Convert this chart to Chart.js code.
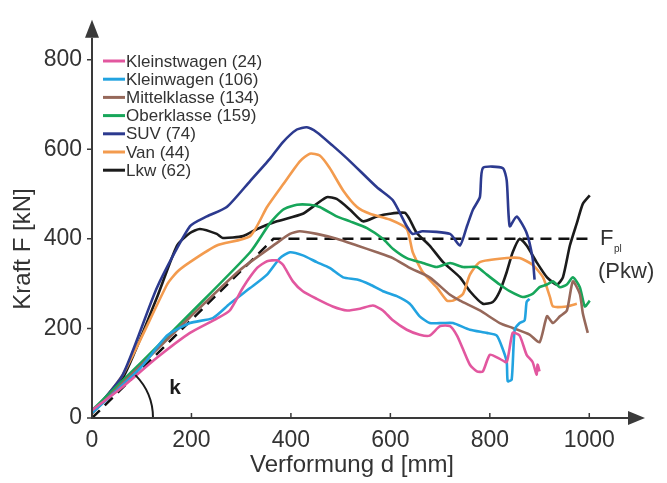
<!DOCTYPE html>
<html>
<head>
<meta charset="utf-8">
<script src="https://cdn.jsdelivr.net/npm/chart.js@4.4.1/dist/chart.umd.min.js"></script>
<style>
  html, body { margin: 0; padding: 0; background: #fff; }
</style>
</head>
<body>
<canvas id="chart" width="667" height="483"></canvas>
<script>
// Kraft-Verformungs-Kennlinien je Fahrzeugklasse (d in mm, F in kN)
const kleinstwagenD = [0,62,131,197,251,277,304,332,352,372,384,404,424,452,484,513,539,565,585,605,633,659,679,700,720,734,746,760,774,786,800,820,834,846,860,874,886,894,896,900];
const kleinstwagenF = [17,70,135,190,222,240,292,335,350,352,342,305,283,266,249,240,244,251,240,218,197,186,184,205,205,184,154,119,104,104,141,132,125,190,184,141,125,97,119,104];

const kleinwagenD = [0,96,151,197,243,277,318,352,378,398,424,452,478,505,533,559,585,613,639,659,679,706,726,760,794,814,826,834,836,844,850,860,870,874,880];
const kleinwagenF = [11,110,184,212,223,255,290,320,357,370,363,348,335,314,309,298,283,272,255,227,212,212,212,197,190,184,154,125,82,86,197,212,218,259,266];

const mittelklasseD = [0,197,297,372,398,418,452,492,533,573,605,639,679,720,740,780,820,846,880,900,915,927,941,955,967,981,987,997];
const mittelklasseF = [11,225,330,391,411,417,411,400,385,370,357,335,314,275,262,240,212,201,186,169,227,212,227,240,305,277,234,190];

const oberklasseD = [0,100,200,318,358,384,412,438,458,492,519,553,585,605,633,665,693,720,746,774,794,820,840,866,886,900,915,927,941,955,967,981,991,1001];
const oberklasseF = [17,125,236,370,435,465,476,476,471,450,439,424,400,378,357,346,337,346,337,337,320,298,283,270,277,292,298,305,292,298,314,292,249,262];

const suvD = [0,62,131,197,231,271,318,358,384,412,432,452,484,519,573,605,633,645,665,720,740,754,766,780,786,826,834,840,854,874,886,890];
const suvF = [11,97,292,428,450,471,529,579,616,644,649,638,608,573,515,486,428,411,417,411,385,428,465,493,558,558,530,428,450,413,357,309];

const vanD = [0,62,151,171,197,251,318,352,384,418,438,458,478,505,533,559,599,633,645,665,693,714,726,746,760,780,834,860,886,907,921,927,955,975];
const vanF = [9,97,298,326,348,385,406,471,521,573,590,586,558,508,471,456,443,422,370,326,292,262,262,277,320,348,357,357,342,314,270,249,249,255];

const lkwD = [0,62,131,171,197,217,251,263,304,332,372,424,452,472,492,519,545,573,599,629,639,653,679,706,740,760,786,806,820,834,846,860,874,894,915,935,947,961,975,987,1001];
const lkwF = [11,89,270,385,413,422,411,402,406,422,439,456,478,493,489,465,439,450,456,458,443,413,385,348,314,283,255,259,283,326,370,400,385,348,314,298,314,385,435,478,497];

// plastische Grenzkraft Pkw, Anstieg k
const fplD = [0, 365, 1000];
const fplF = [0, 400, 400];

const seriesNames = ['Kleinstwagen (24)', 'Kleinwagen (106)', 'Mittelklasse (134)', 'Oberklasse (159)', 'SUV (74)', 'Van (44)', 'Lkw (62)'];
const seriesColors = ['#e2579f', '#22a3e0', '#96685a', '#17a65a', '#2c3a8f', '#f39b4e', '#1b1b1b'];
const xTicks = [0, 200, 400, 600, 800, 1000];
const yTicks = [0, 200, 400, 600, 800];

const FONT = '"Liberation Sans", Arial, Helvetica, sans-serif';
const TEXT = '#333333';

const pts = (d, f) => d.map((v, i) => ({x: v, y: f[i]}));

const curves = [
  [kleinstwagenD, kleinstwagenF],
  [kleinwagenD, kleinwagenF],
  [mittelklasseD, mittelklasseF],
  [oberklasseD, oberklasseF],
  [suvD, suvF],
  [vanD, vanF],
  [lkwD, lkwF]
];

const datasets = curves.map(([d, f], i) => ({
  label: seriesNames[i],
  data: pts(d, f),
  borderColor: seriesColors[i],
  borderWidth: 2.6,
  tension: 0.2,
  pointRadius: 0,
  showLine: true
}));

datasets.push({
  label: 'Fpl',
  data: pts(fplD, fplF),
  borderColor: '#111',
  borderWidth: 2.5,
  borderDash: [11, 7],
  pointRadius: 0,
  showLine: true,
  tension: 0
});

// axes with arrows, legend, k-angle and text labels
const decor = {
  id: 'decor',
  afterDraw(chart) {
    const {ctx, scales: {x, y}} = chart;
    const x0 = x.getPixelForValue(0);
    const y0 = y.getPixelForValue(0);
    ctx.save();

    // k angle arc between x axis and the dashed line
    const bend = {x: x.getPixelForValue(fplD[1]), y: y.getPixelForValue(fplF[1])};
    const ang = Math.atan2(bend.y - y0, bend.x - x0);
    ctx.strokeStyle = '#1b1b1b';
    ctx.lineWidth = 2;
    ctx.beginPath();
    ctx.arc(x0, y0, 61, ang, 0);
    ctx.stroke();
    ctx.fillStyle = '#1b1b1b';
    ctx.font = 'bold 21px ' + FONT;
    ctx.textAlign = 'center';
    ctx.textBaseline = 'middle';
    ctx.fillText('k', 175, 388);

    // axis lines
    ctx.strokeStyle = '#3a3a3a';
    ctx.fillStyle = '#3a3a3a';
    ctx.lineWidth = 2;
    ctx.beginPath();
    ctx.moveTo(x0, y0);
    ctx.lineTo(x.right - 8, y0);
    ctx.moveTo(x0, y0 + 1);
    ctx.lineTo(x0, y.top + 14);
    ctx.stroke();

    // arrow heads
    ctx.beginPath();
    ctx.moveTo(x.right + 6, y0);
    ctx.lineTo(x.right - 11, y0 - 7);
    ctx.lineTo(x.right - 11, y0 + 7);
    ctx.closePath();
    ctx.fill();
    ctx.beginPath();
    ctx.moveTo(x0, y.top - 4);
    ctx.lineTo(x0 - 7, y.top + 14);
    ctx.lineTo(x0 + 7, y.top + 14);
    ctx.closePath();
    ctx.fill();

    // tick marks
    ctx.lineWidth = 1.5;
    ctx.beginPath();
    xTicks.forEach(v => {
      const px = x.getPixelForValue(v);
      ctx.moveTo(px, y0);
      ctx.lineTo(px, y0 - 5);
    });
    yTicks.forEach(v => {
      const py = y.getPixelForValue(v);
      ctx.moveTo(x0, py);
      ctx.lineTo(x0 - 5, py);
    });
    ctx.stroke();

    // axis titles
    ctx.fillStyle = TEXT;
    ctx.font = '24px ' + FONT;
    ctx.textAlign = 'center';
    ctx.textBaseline = 'middle';
    ctx.fillText('Verformung d [mm]', 352, 465);
    ctx.save();
    ctx.translate(23, 249);
    ctx.rotate(-Math.PI / 2);
    ctx.fillText('Kraft F [kN]', 0, 0);
    ctx.restore();

    // Fpl label
    const fy = y.getPixelForValue(400);
    ctx.textAlign = 'left';
    ctx.font = '22px ' + FONT;
    ctx.fillText('F', 600, fy);
    ctx.font = '10px ' + FONT;
    ctx.fillText('pl', 614, fy + 10);
    ctx.font = '22px ' + FONT;
    ctx.fillText('(Pkw)', 598, fy + 33);

    // legend
    ctx.font = '17px ' + FONT;
    seriesNames.forEach((name, i) => {
      const ly = 61 + i * 18.2;
      ctx.strokeStyle = seriesColors[i];
      ctx.lineWidth = 3;
      ctx.beginPath();
      ctx.moveTo(103, ly);
      ctx.lineTo(125, ly);
      ctx.stroke();
      ctx.fillStyle = TEXT;
      ctx.fillText(name, 126, ly + 1);
    });

    ctx.restore();
  }
};

new Chart(document.getElementById('chart'), {
  type: 'scatter',
  data: {datasets},
  options: {
    responsive: false,
    animation: false,
    layout: {padding: {top: 11, right: 28, left: 0, bottom: 0}},
    plugins: {legend: {display: false}, tooltip: {enabled: false}},
    scales: {
      x: {
        type: 'linear',
        min: 0,
        max: 1100,
        grid: {display: false, drawTicks: false},
        border: {display: false},
        afterFit: s => { s.height = 65; },
        afterBuildTicks: s => { s.ticks = xTicks.map(v => ({value: v})); },
        ticks: {color: TEXT, padding: 9, maxRotation: 0, font: {family: FONT, size: 23}, callback: v => String(v)}
      },
      y: {
        type: 'linear',
        min: 0,
        max: 880,
        grid: {display: false, drawTicks: false},
        border: {display: false},
        afterFit: s => { s.width = 92; },
        afterBuildTicks: s => { s.ticks = yTicks.map(v => ({value: v})); },
        ticks: {color: TEXT, padding: 10, font: {family: FONT, size: 23}, callback: v => String(v)}
      }
    }
  },
  plugins: [decor]
});
</script>
</body>
</html>
